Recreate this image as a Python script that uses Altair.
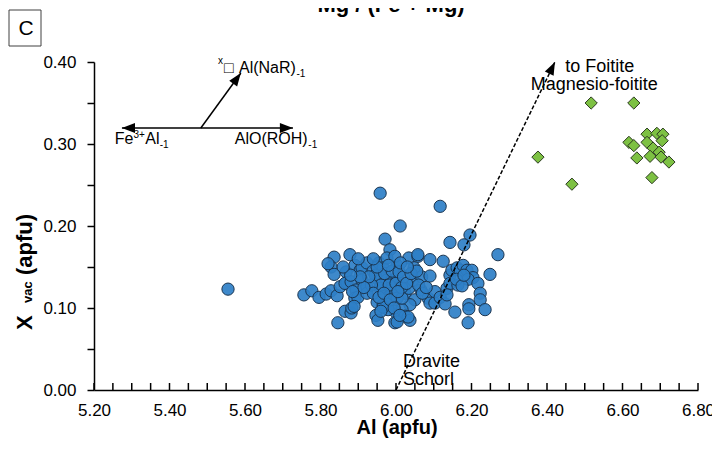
import altair as alt
import pandas as pd

FONT = "Liberation Sans"

# ---------------- data ----------------
blue_al = [5.555, 5.958, 6.117, 6.011, 5.971, 6.143, 6.196, 6.180, 6.270, 5.984,
           5.756, 5.777, 5.796, 5.815, 5.828, 5.844, 5.852, 5.836, 5.828, 5.820,
           5.836, 5.878, 5.868, 5.870, 5.865, 5.881, 5.891, 5.905, 5.910, 5.923,
           5.910, 5.894, 5.891, 5.899, 5.923, 5.923, 5.939, 5.955, 5.966, 5.952,
           5.963, 5.976, 5.989, 6.003, 5.997, 5.974, 5.958, 5.950, 5.966, 5.976,
           5.997, 5.989, 5.865, 5.881, 5.883, 5.889, 5.846, 5.947, 5.952, 5.997,
           5.997, 5.979, 5.966, 5.976, 6.003, 6.013, 6.024, 6.034, 6.045, 6.034,
           6.058, 6.048, 6.090, 6.125, 6.068, 6.090, 6.066, 6.050, 6.037, 6.016,
           6.024, 6.037, 6.032, 6.003, 6.003, 6.016, 6.085, 6.090, 6.103, 6.103,
           6.117, 6.130, 6.143, 6.148, 6.162, 6.170, 6.178, 6.188, 6.201, 6.204,
           6.191, 6.217, 6.223, 6.223, 6.193, 6.193, 6.236, 6.191, 6.156, 6.135,
           6.143, 6.164, 6.135, 6.249, 5.997, 6.058,
           5.945, 5.960, 5.970, 5.982, 5.990, 6.000, 6.008, 6.015, 6.020, 5.935,
           5.928, 5.940, 5.955, 5.968, 5.985, 6.005, 6.028, 6.040, 5.915, 5.905,
           5.950, 5.980, 6.012, 6.060, 6.070, 6.080, 6.055, 5.995, 5.960, 6.010,
           5.880, 5.885, 5.860, 5.900, 5.940, 6.030, 6.160, 6.175, 6.180]
blue_xvac = [0.123, 0.240, 0.224, 0.200, 0.184, 0.180, 0.189, 0.177, 0.165, 0.171,
             0.116, 0.121, 0.113, 0.117, 0.121, 0.115, 0.126, 0.162, 0.150, 0.154,
             0.141, 0.165, 0.144, 0.131, 0.130, 0.132, 0.152, 0.146, 0.149, 0.155,
             0.134, 0.122, 0.112, 0.113, 0.126, 0.118, 0.145, 0.155, 0.149, 0.135,
             0.137, 0.134, 0.134, 0.137, 0.124, 0.124, 0.124, 0.107, 0.104, 0.106,
             0.116, 0.118, 0.096, 0.094, 0.100, 0.102, 0.082, 0.091, 0.085, 0.082,
             0.096, 0.098, 0.101, 0.161, 0.152, 0.126, 0.118, 0.124, 0.134, 0.161,
             0.163, 0.149, 0.159, 0.157, 0.138, 0.139, 0.122, 0.110, 0.104, 0.098,
             0.090, 0.085, 0.089, 0.083, 0.112, 0.112, 0.112, 0.106, 0.106, 0.120,
             0.113, 0.105, 0.140, 0.146, 0.149, 0.146, 0.152, 0.146, 0.146, 0.137,
             0.135, 0.130, 0.118, 0.110, 0.104, 0.099, 0.098, 0.082, 0.095, 0.124,
             0.130, 0.128, 0.116, 0.141, 0.163, 0.165,
             0.140, 0.128, 0.142, 0.128, 0.145, 0.130, 0.144, 0.125, 0.138, 0.128,
             0.138, 0.118, 0.113, 0.118, 0.110, 0.120, 0.130, 0.142, 0.125, 0.138,
             0.150, 0.152, 0.155, 0.128, 0.118, 0.125, 0.145, 0.100, 0.096, 0.091,
             0.140, 0.120, 0.150, 0.160, 0.160, 0.150, 0.135, 0.127, 0.140]

green_al = [6.376, 6.517, 6.630, 6.466, 6.678, 6.665, 6.691, 6.707, 6.705,
            6.665, 6.617, 6.630, 6.681, 6.697, 6.673, 6.702, 6.638, 6.723]
green_xvac = [0.284, 0.350, 0.350, 0.251, 0.259, 0.312, 0.313, 0.312, 0.304,
              0.302, 0.302, 0.298, 0.295, 0.290, 0.285, 0.284, 0.283, 0.278]

x_label_values = [5.2, 5.4, 5.6, 5.8, 6.0, 6.2, 6.4, 6.6, 6.8]
x_tick_values = [5.20, 5.25, 5.30, 5.35, 5.40, 5.45, 5.50, 5.55, 5.60, 5.65, 5.70,
                 5.75, 5.80, 5.85, 5.90, 5.95, 6.00, 6.05, 6.10, 6.15, 6.20, 6.25,
                 6.30, 6.35, 6.40, 6.45, 6.50, 6.55, 6.60, 6.65, 6.70, 6.75, 6.80]
y_tick_values = [0.00, 0.05, 0.10, 0.15, 0.20, 0.25, 0.30, 0.35, 0.40]

# exchange-vector lines (start, end)
line_x1 = [5.274, 5.483]
line_y1 = [0.3195, 0.3195]
line_x2 = [5.727, 5.589]
line_y2 = [0.3195, 0.3866]
dash_x1, dash_y1, dash_x2, dash_y2 = [6.00], [0.00], [6.421], [0.400]
head_x = [6.421, 5.589, 5.274, 5.727]
head_y = [0.400, 0.3866, 0.3195, 0.3195]
head_angle = [26, 36, 270, 90]

# ---------------- chart ----------------
xs = alt.Scale(domain=[5.2, 6.8], nice=False, zero=False)
ys = alt.Scale(domain=[0.0, 0.4], nice=False, zero=False)

x_axis = alt.Axis(values=x_label_values, format=".2f", ticks=False, labelPadding=12,
                  labelFontSize=17, labelFont=FONT, labelColor="black",
                  domainColor="black", domainWidth=1.5, grid=False, title=None,
                  labelOverlap=False, labelFlush=False)
y_axis = alt.Axis(values=y_tick_values,
                  labelExpr="round(datum.value*20) % 2 == 0 ? format(datum.value, '.2f') : ''",
                  tickSize=7, tickColor="black", tickWidth=1.5, labelPadding=11,
                  labelFontSize=17, labelFont=FONT, labelColor="black",
                  domainColor="black", domainWidth=1.5, grid=False, title=None,
                  labelOverlap=False)

blue = alt.Chart(pd.DataFrame({"al": blue_al, "xv": blue_xvac})).mark_point(
    shape="circle", filled=True, size=150, fill="#2E7FC7", stroke="#1B3550",
    strokeWidth=1, opacity=1, fillOpacity=0.92
).encode(x=alt.X("al:Q", scale=xs, axis=x_axis), y=alt.Y("xv:Q", scale=ys, axis=y_axis))

green = alt.Chart(pd.DataFrame({"al": green_al, "xv": green_xvac})).mark_point(
    shape="diamond", filled=True, size=150, fill="#7DC143", stroke="#2B3A1F",
    strokeWidth=1, opacity=1
).encode(x=alt.X("al:Q", scale=xs), y=alt.Y("xv:Q", scale=ys))

xticks = alt.Chart(pd.DataFrame({"t": x_tick_values})).mark_rule(
    color="black", strokeWidth=1.5
).encode(x=alt.X("t:Q", scale=xs), y=alt.value(328), y2=alt.value(321))

lines = alt.Chart(pd.DataFrame({"x": line_x1, "y": line_y1, "x2": line_x2, "y2": line_y2})).mark_rule(
    color="black", strokeWidth=1.5
).encode(x=alt.X("x:Q", scale=xs), y=alt.Y("y:Q", scale=ys), x2="x2:Q", y2="y2:Q")

dashed = alt.Chart(pd.DataFrame({"x": dash_x1, "y": dash_y1, "x2": dash_x2, "y2": dash_y2})).mark_rule(
    color="black", strokeWidth=1.5, strokeDash=[4, 2]
).encode(x=alt.X("x:Q", scale=xs), y=alt.Y("y:Q", scale=ys), x2="x2:Q", y2="y2:Q")

ARROW = "M0,0L0.75,2L-0.75,2Z"
heads = alt.Chart(pd.DataFrame({"x": head_x, "y": head_y, "a": head_angle})).mark_point(
    shape=ARROW, filled=True, color="black", size=170, opacity=1, strokeWidth=0
).encode(x=alt.X("x:Q", scale=xs), y=alt.Y("y:Q", scale=ys),
         angle=alt.Angle("a:Q", scale=None))


def dtext(text, x, y, size, align="left", dx=0, dy=0, weight="normal"):
    return alt.Chart(alt.Data(values=[{"x": x, "y": y, "t": text}])).mark_text(
        font=FONT, fontSize=size, align=align, baseline="alphabetic", dx=dx, dy=dy,
        color="black", fontWeight=weight
    ).encode(x=alt.X("x:Q", scale=xs), y=alt.Y("y:Q", scale=ys), text="t:N")


def ptext(text, px, py, size, align="center", weight="normal", angle=0):
    return alt.Chart(alt.Data(values=[{"t": text}])).mark_text(
        font=FONT, fontSize=size, align=align, baseline="alphabetic",
        color="black", fontWeight=weight, angle=angle
    ).encode(x=alt.value(px), y=alt.value(py), text="t:N")


texts = [
    dtext("to Foitite", 6.540, 0.388, 18, align="center"),
    dtext("Magnesio-foitite", 6.525, 0.366, 18, align="center"),
    dtext("Dravite", 6.0185, 0.028, 18),
    dtext("Schorl", 6.0185, 0.006, 18),
    dtext("Fe", 5.255, 0.300, 16),
    dtext("3+", 5.255, 0.300, 10, dx=18.7, dy=-6),
    dtext("Al", 5.255, 0.300, 16, dx=30.5),
    dtext("-1", 5.255, 0.300, 10, dx=45, dy=4),
    dtext("AlO(ROH)", 5.573, 0.300, 16),
    dtext("-1", 5.573, 0.300, 10, dx=73.5, dy=4),
    dtext("x", 5.5285, 0.3866, 10, dy=-9),
    dtext("\u25a1", 5.5285, 0.3866, 16, dx=6),
    dtext("Al(NaR)", 5.5285, 0.3866, 16, dx=21),
    dtext("-1", 5.5285, 0.3866, 10, dx=78.5, dy=4),
    ptext("Mg / (Fe + Mg)", 297, -50, 22, weight="bold"),
    ptext("C", -68, -27, 21),
    ptext("Al (apfu)", 303, 372, 20, weight="bold"),
    ptext("X", -62, 268, 22, align="left", weight="bold", angle=270),
    ptext("vac", -62, 241, 13, align="left", weight="bold", angle=270),
    ptext("(apfu)", -62, 213, 22, align="left", weight="bold", angle=270),
]

cbox = alt.Chart(alt.Data(values=[{"a": 1}])).mark_rect(
    fill="white", stroke="#404040", strokeWidth=1
).encode(x=alt.value(-85), x2=alt.value(-53), y=alt.value(-52), y2=alt.value(-16))

chart = alt.layer(
    blue, green, xticks, lines, dashed, heads, cbox, *texts
).properties(
    width=604, height=328,
    padding={"left": 86, "top": 54, "right": 14, "bottom": 50},
    autosize=alt.AutoSizeParams(type="none"),
).configure_view(stroke=None)

chart.save("out.html", embed_options={"renderer": "svg", "actions": False})
